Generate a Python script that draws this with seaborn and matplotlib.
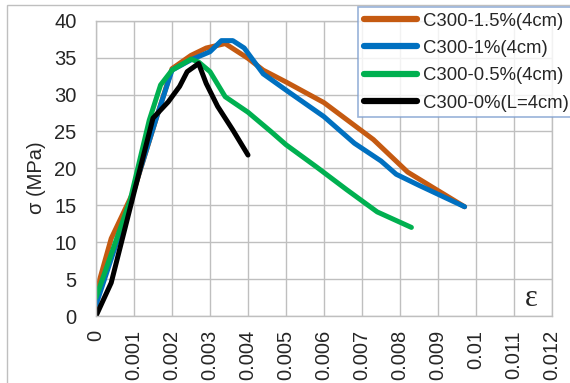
import matplotlib
matplotlib.use("Agg")
import matplotlib.pyplot as plt
import seaborn as sns
import pandas as pd
from matplotlib.patches import Rectangle

# Stress-strain curves of C300 specimens with different fibre contents
labels = ["C300-1.5%(4cm)", "C300-1%(4cm)", "C300-0.5%(4cm)", "C300-0%(L=4cm)"]
colors = ["#C55A11", "#0070C0", "#00B050", "#000000"]

strain_15 = [0, 0.0001, 0.0004, 0.0010, 0.0016, 0.0020, 0.0025, 0.0029, 0.0034,
             0.0040, 0.0044, 0.0050, 0.0060, 0.0073, 0.0082, 0.0089, 0.0097]
stress_15 = [1.0, 5.0, 10.5, 17.0, 27.0, 33.5, 35.3, 36.3, 36.9,
             34.9, 33.3, 31.7, 28.9, 23.9, 19.5, 17.3, 14.8]

strain_10 = [0, 0.0009, 0.0016, 0.0020, 0.0025, 0.0030, 0.0033, 0.0036, 0.0039,
             0.0044, 0.0050, 0.0060, 0.0068, 0.0075, 0.0079, 0.0085, 0.0097]
stress_10 = [1.5, 15.5, 27.0, 33.3, 34.7, 35.8, 37.3, 37.3, 36.3,
             32.8, 30.6, 27.0, 23.4, 21.0, 19.2, 17.7, 14.8]

strain_05 = [0, 0.0009, 0.0014, 0.0017, 0.0020, 0.0025, 0.0027, 0.0030, 0.0034,
             0.0040, 0.0046, 0.0050, 0.0058, 0.0066, 0.0074, 0.0083]
stress_05 = [2.5, 15.7, 26.5, 31.3, 33.3, 34.8, 34.4, 33.1, 29.7,
             27.6, 25.0, 23.2, 20.2, 17.1, 14.1, 12.0]

strain_00 = [0, 0.0004, 0.0010, 0.0015, 0.0019, 0.0022, 0.0024, 0.0027, 0.0029,
             0.0032, 0.0036, 0.0040]
stress_00 = [0, 4.5, 16.7, 26.8, 29.0, 31.1, 33.1, 34.2, 31.5,
             28.4, 25.2, 21.8]

x_ticks = [0, 0.001, 0.002, 0.003, 0.004, 0.005, 0.006, 0.007, 0.008, 0.009,
           0.01, 0.011, 0.012]
x_ticklabels = ["0", "0.001", "0.002", "0.003", "0.004", "0.005", "0.006",
                "0.007", "0.008", "0.009", "0.01", "0.011", "0.012"]
y_ticks = [0, 5, 10, 15, 20, 25, 30, 35, 40]

frames = []
for lab, xs, ys in zip(labels,
                       [strain_15, strain_10, strain_05, strain_00],
                       [stress_15, stress_10, stress_05, stress_00]):
    frames.append(pd.DataFrame({"strain": xs, "stress": ys, "series": lab}))
df = pd.concat(frames, ignore_index=True)

sns.set_style("white")
plt.rcParams["font.family"] = ["Liberation Sans", "DejaVu Sans"]
FS = 14.5
LEG_FS = 13.3

fig = plt.figure(figsize=(5.7, 3.83), dpi=100)
ax = fig.add_axes([96 / 570, 1 - 316 / 383, (552 - 96) / 570, (316 - 20.7) / 383])

# outer chart frame
fig.patches.append(Rectangle((7 / 570, -0.05), 1.2, 1 - 5 / 383 + 0.05,
                             transform=fig.transFigure, fill=False,
                             edgecolor="#BFBFBF", linewidth=1.0, zorder=0))

sns.lineplot(data=df, x="strain", y="stress", hue="series", hue_order=labels,
             palette=colors, sort=False, estimator=None, linewidth=3.6,
             ax=ax, legend=True)
for line in ax.get_lines():
    line.set_solid_capstyle("round")
    line.set_solid_joinstyle("round")

ax.set_xlim(0, 0.012)
ax.set_ylim(0, 40)
ax.set_xticks(x_ticks)
ax.set_xticklabels(x_ticklabels, rotation=90, fontsize=FS)
ax.set_yticks(y_ticks)
ax.set_yticklabels([str(v) for v in y_ticks], fontsize=FS)
ax.tick_params(axis="y", length=0, pad=14)
ax.tick_params(axis="x", length=0, pad=10)
ax.grid(True, color="#BFBFBF", linewidth=1.0)
for sp in ax.spines.values():
    sp.set_color("#BFBFBF")
    sp.set_linewidth(1.0)
ax.set_xlabel("")
ax.set_ylabel("")
fig.text(36.5 / 570, 1 - 178 / 383, "σ (MPa)", rotation=90, fontsize=FS,
         ha="center", va="center")

ax.text(0.01146, 2.4, "ε", fontsize=22, ha="center", va="center",
        family=["Liberation Serif", "DejaVu Serif"])

handles, labs = ax.get_legend_handles_labels()
ax.get_legend().remove()
for h in handles:
    h.set_linewidth(4.5)
    h.set_solid_capstyle("round")
# legend box runs past the right edge of the chart
leg = fig.legend(handles, labs, loc="upper left",
                 bbox_to_anchor=(358 / 570, 0, (575 - 358) / 570, 1 - 7 / 383),
                 mode="expand",
                 fontsize=LEG_FS, frameon=True, fancybox=False,
                 handlelength=2.9, handletextpad=0.3, labelspacing=0.56,
                 borderaxespad=0, borderpad=0.3)
leg.get_frame().set_edgecolor("#7F9FCF")
leg.get_frame().set_linewidth(1.2)

fig.savefig("out.png", dpi=100)
